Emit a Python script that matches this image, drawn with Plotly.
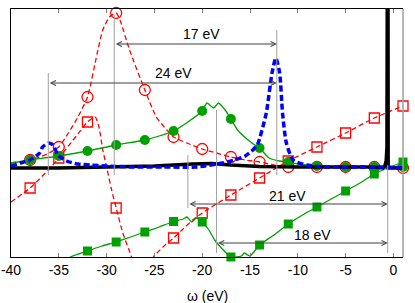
import plotly.graph_objects as go

# ---------------- data (y in arbitrary units) -------------
tick_vals = [-40, -35, -30, -25, -20, -15, -10, -5, 0]
tick_text = ["-40", "-35", "-30", "-25", "-20", "-15", "-10", "-5", "0"]

# red dashed curve with open circles
red_circ_x = [-40, -38, -37, -36, -35, -34, -33, -32, -31, -30.4, -29.7, -29, -28.6, -27.6, -26,
              -24.8, -23.7, -23, -21.6, -20, -18.5, -17, -15.5, -14, -12.5, -11, -8, -5, -2, 1]
red_circ_y = [94, 97, 100, 104, 110, 124, 140, 160, 203, 227, 240, 244, 237, 207, 167,
              140, 127, 120, 114, 108, 104, 100, 97, 95, 92, 90, 90, 90, 90, 89]
red_circ_mx = [-38, -35, -32, -29, -26, -23, -20, -17, -14, -11, -8, -5, -2, 1]
red_circ_my = [97, 110, 160, 244, 167, 120, 108, 100, 95, 90, 90, 90, 90, 89]

# red dashed curve with open squares
red_sq_x = [-40, -38, -36, -35, -34, -33, -32, -31.2, -30.8, -30.4, -30, -29.5, -29, -28.3, -27.4,
            -26.8, -25.6, -25.1, -24.1, -23, -22, -21, -20, -17, -14, -11, -8, -5, -2, 1]
red_sq_y = [55, 69, 88, 99, 111, 123, 135, 140, 130, 107, 90, 68, 49, 24, 0,
            -20, -15, 0, 10, 19, 28, 37, 44, 62, 79, 96, 110, 124, 139, 151]
red_sq_mx = [-38, -35, -32, -29, -23, -20, -17, -14, -11, -8, -5, -2, 1]
red_sq_my = [69, 99, 135, 49, 19, 44, 62, 79, 96, 110, 124, 139, 151]

# green solid curve with filled circles
grn_circ_x = [-40, -38, -35, -32, -29, -26, -24.5, -23, -21.5, -20, -19.5, -18.8, -18.3, -17.6, -17,
              -16.3, -15.2, -14.2, -14, -13, -11.9, -11, -10, -8, -5, -2, 1]
grn_circ_y = [94, 97, 101, 106, 112, 117, 121, 126, 135, 146, 154, 149, 154, 147, 138,
              127, 117, 110, 109, 99, 96, 95, 93, 91, 90, 90, 90]
grn_circ_mx = [-38, -35, -32, -29, -26, -23, -20, -17, -14, -11, -8, -5, -2, 1]
grn_circ_my = [97, 101, 106, 112, 117, 126, 146, 138, 109, 95, 91, 90, 90, 90]

# green solid curve with filled squares
grn_sq_x = [-35, -33.8, -32, -30.5, -29, -27.5, -26, -24.5, -23, -22, -21.6, -21.1, -20.6, -20,
            -19.3, -18.7, -17.8, -17, -15.9, -15.6, -15, -14, -12.5, -11, -9.5, -8, -6.5, -5,
            -3.5, -2, -1.1, -0.4, 1]
grn_sq_y = [-8, 0, 6, 11, 15, 20, 25, 30, 35.5, 38, 40, 35, 39, 35,
            27, 17, 7, 0, 1, 4, 1, 12, 22, 33, 42, 50, 58, 66,
            74, 83, 87, 90, 95]
grn_sq_mx = [-32, -29, -26, -23, -20, -17, -14, -11, -8, -5, -2, 1]
grn_sq_my = [6, 15, 25, 35.5, 35, 0, 12, 33, 50, 66, 83, 95]

# thick blue dashed curve
blue_x = [-40, -39, -38, -37, -36.7, -36.1, -35.6, -35.1, -34.2, -33, -31.7, -30, -27.5, -24,
          -20.6, -17.9, -16.6, -15.5, -14.7, -14.2, -13.3, -12.7, -12.3, -11.9, -11.6, -11.2,
          -10.5, -9.1, -7, -4, -1, 1]
blue_y = [91, 94, 97, 104, 110, 114, 112, 102, 96, 93, 92, 91, 90, 90,
          90, 94, 97, 101, 107, 113, 144, 184, 199, 184, 144, 114,
          97, 92, 90, 90, 90, 89]

# thick black solid curve
black_x = [-40, -35, -30, -25, -21, -19, -17, -14, -10, -5, -2, -1.1, -0.9, -0.76, -0.68,
           -0.62, -0.58, -0.55, 0, 1]
black_y = [89, 89, 90, 91, 93, 93.5, 92, 90.5, 90, 90, 90, 89, 91, 96, 110,
           400, 400, 89, 89, 89]

# annotation guide lines (vertical) and arrows
vlines = [(-36.1, 82, 184), (-29.2, 82, 242), (-12.2, 82, 227),
          (-21.5, 49, 102), (-18.5, 4, 147), (-0.6, 4, 92)]
arrows = [(-29.2, -12.2, 213), (-36.1, -12.2, 174), (-21.5, -0.6, 53), (-18.5, -0.6, 14)]
labels = [("17 eV", -20.05, 223), ("24 eV", -23.0, 184.5), ("21 eV", -11.1, 61.5), ("18 eV", -8.5, 22)]

RED = "#ff0000"
GREEN = "#00a000"
BLUE = "#0000ff"
FONT = "Liberation Sans, Arial, sans-serif"

fig = go.Figure()

# curves
fig.add_trace(go.Scatter(x=red_sq_x, y=red_sq_y, mode="lines",
                         line=dict(color=RED, width=1.3, dash="5px,3px", shape="spline", smoothing=0.6)))
fig.add_trace(go.Scatter(x=red_sq_mx, y=red_sq_my, mode="markers", cliponaxis=False,
                         marker=dict(symbol="square-open", size=10, color=RED, line=dict(width=1.3, color=RED))))
fig.add_trace(go.Scatter(x=red_circ_x, y=red_circ_y, mode="lines",
                         line=dict(color=RED, width=1.3, dash="5px,3px", shape="spline", smoothing=0.6)))
fig.add_trace(go.Scatter(x=red_circ_mx, y=red_circ_my, mode="markers", cliponaxis=False,
                         marker=dict(symbol="circle-open", size=11, color=RED, line=dict(width=1.3, color=RED))))
fig.add_trace(go.Scatter(x=grn_circ_x, y=grn_circ_y, mode="lines",
                         line=dict(color=GREEN, width=1.3, shape="spline", smoothing=0.6)))
fig.add_trace(go.Scatter(x=grn_circ_mx, y=grn_circ_my, mode="markers", cliponaxis=False,
                         marker=dict(symbol="circle", size=10, color=GREEN)))
fig.add_trace(go.Scatter(x=grn_sq_x, y=grn_sq_y, mode="lines",
                         line=dict(color=GREEN, width=1.3, shape="spline", smoothing=0.5)))
fig.add_trace(go.Scatter(x=grn_sq_mx, y=grn_sq_my, mode="markers", cliponaxis=False,
                         marker=dict(symbol="square", size=9, color=GREEN)))
fig.add_trace(go.Scatter(x=black_x, y=black_y, mode="lines",
                         line=dict(color="black", width=3.5)))
fig.add_trace(go.Scatter(x=blue_x, y=blue_y, mode="lines",
                         line=dict(color=BLUE, width=3.5, dash="6px,3px", shape="spline", smoothing=0.6)))

# guide lines
for (xv, y0, y1) in vlines:
    fig.add_shape(type="line", x0=xv, x1=xv, y0=y0, y1=y1, xref="x", yref="y",
                  line=dict(color="#a0a0a0", width=1))
for (x0, x1, yv) in arrows:
    fig.add_annotation(x=x1, y=yv, ax=x0, ay=yv, xref="x", yref="y", axref="x", ayref="y",
                       text="", showarrow=True, arrowhead=5, arrowside="end+start",
                       arrowsize=1, arrowwidth=1, arrowcolor="#404040")
for (t, xv, yv) in labels:
    fig.add_annotation(x=xv, y=yv, xref="x", yref="y", text=t, showarrow=False,
                       font=dict(family=FONT, size=14, color="black"))

# right border (gray)
fig.add_shape(type="line", x0=1, x1=1, y0=0, y1=1, xref="paper", yref="paper",
              line=dict(color="#a0a0a0", width=1.5))

# x axis title
fig.add_annotation(x=0.5, y=0, xref="paper", yref="paper", yshift=-39, yanchor="middle",
                   text="ω (eV)", showarrow=False, font=dict(family=FONT, size=14, color="black"))

fig.update_layout(
    width=415, height=303,
    margin=dict(l=11, r=12, t=9, b=46, autoexpand=False),
    paper_bgcolor="white", plot_bgcolor="white",
    showlegend=False,
    font=dict(family=FONT, size=14, color="black"),
    xaxis=dict(range=[-40, 1], tickvals=tick_vals, ticktext=tick_text,
               ticks="inside", ticklen=4, tickcolor="#808080", tickwidth=1,
               showline=True, linecolor="black", linewidth=1, mirror="ticks",
               showgrid=False, zeroline=False, automargin=False,
               tickfont=dict(family=FONT, size=14, color="black")),
    yaxis=dict(range=[0, 248], showticklabels=False, ticks="",
               showline=True, linecolor="black", linewidth=1, mirror=False,
               showgrid=False, zeroline=False, automargin=False),
)

fig.write_html("out.html", config={"displayModeBar": False},
               post_script="document.body.style.margin='0';document.body.style.padding='0';"
                           "document.documentElement.style.overflow='hidden';")
